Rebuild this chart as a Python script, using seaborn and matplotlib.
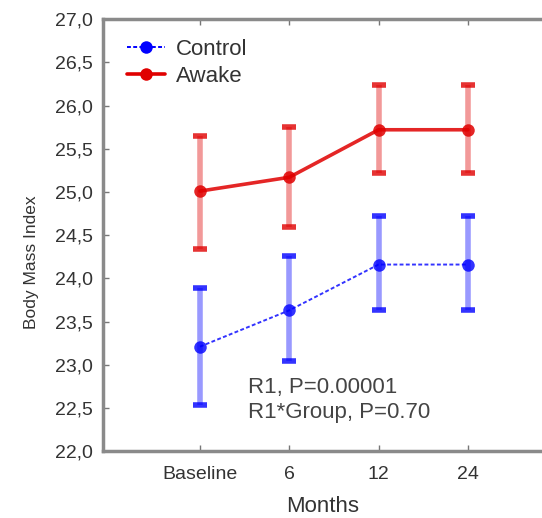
import numpy as np
import pandas as pd
import matplotlib.pyplot as plt
import seaborn as sns
from matplotlib.lines import Line2D

# values
months = ["Baseline", "6", "12", "24"]
control_mean = [23.21, 23.63, 24.16, 24.16]
control_lo = [22.53, 23.04, 23.63, 23.63]
control_hi = [23.89, 24.26, 24.72, 24.72]
awake_mean = [25.01, 25.17, 25.72, 25.72]
awake_lo = [24.34, 24.59, 25.22, 25.22]
awake_hi = [25.65, 25.75, 26.24, 26.24]
y_ticks = [22.0, 22.5, 23.0, 23.5, 24.0, 24.5, 25.0, 25.5, 26.0, 26.5, 27.0]

sns.set_style("white")
plt.rcParams['font.family'] = ['Liberation Sans', 'DejaVu Sans']

blue = "#0000ff"
red = "#e00000"

df = pd.DataFrame({
    "pos": list(range(len(months))) * 2,
    "bmi": control_mean + awake_mean,
    "group": ["Control"] * 4 + ["Awake"] * 4,
})

fig = plt.figure(figsize=(5.42, 5.18), dpi=100)
ax = fig.add_axes([0.19, 0.129, 0.81, 0.834])

# error bars
for mean, lo, hi, col in [(control_mean, control_lo, control_hi, blue),
                          (awake_mean, awake_lo, awake_hi, red)]:
    mean = np.array(mean)
    yerr = [mean - np.array(lo), np.array(hi) - mean]
    ax.errorbar(range(len(months)), mean, yerr=yerr, fmt='none', ecolor=col,
                elinewidth=4, capsize=5, capthick=4, alpha=0.4, zorder=2)

sns.lineplot(data=df, x="pos", y="bmi", hue="group", style="group",
             palette={"Control": blue, "Awake": red},
             dashes={"Control": (2, 1.2), "Awake": ""},
             markers={"Control": "o", "Awake": "o"},
             markersize=9, markeredgewidth=0, legend=False, ax=ax, zorder=3)
for ln in ax.get_lines():
    if ln.get_color() == red:
        ln.set_linewidth(2.6)
        ln.set_alpha(0.85)
    else:
        ln.set_linewidth(1.4)
        ln.set_alpha(0.8)

ax.set_xlim(-1.086, 3.83)
ax.set_ylim(22.0, 27.0)
ax.set_xticks(range(len(months)))
ax.set_xticklabels(months, fontsize=14)
ax.set_yticks(y_ticks)
ax.set_yticklabels([f"{v:.1f}".replace(".", ",") for v in y_ticks], fontsize=14)
ax.tick_params(axis='both', direction='in', length=4, width=1, color='#777777',
               labelcolor='#333333', top=True, left=True, bottom=True, pad=7)
ax.tick_params(axis='x', pad=11)

for side in ['left', 'top', 'bottom']:
    ax.spines[side].set_color('#8a8a8a')
    ax.spines[side].set_linewidth(2.5)
ax.spines['right'].set_visible(False)

ax.set_xlabel("Months", fontsize=16, color='#333333', labelpad=9)
ax.set_ylabel("Body Mass Index", fontsize=12.5, color='#333333', labelpad=10)
ax.yaxis.set_label_coords(-0.145, 0.4375)

ax.text(0.54, 22.33, "R1, P=0.00001\nR1*Group, P=0.70", fontsize=16,
        color='#444444', linespacing=1.2, va='bottom')

handles = []
for col, ls, lw in [(blue, (0, (2, 1.2)), 1.4), (red, '-', 2.6)]:
    handles.append(Line2D([0], [0], color=col, ls=ls, lw=lw, marker='o',
                          markersize=9, markeredgewidth=0))
leg = ax.legend(handles, ["Control", "Awake"], loc='upper left',
                bbox_to_anchor=(0.025, 0.985), frameon=False, fontsize=16,
                handlelength=1.7, handletextpad=0.5, labelspacing=0.25,
                borderaxespad=0.2)
for t in leg.get_texts():
    t.set_color('#333333')

fig.savefig("out.png", dpi=100)
